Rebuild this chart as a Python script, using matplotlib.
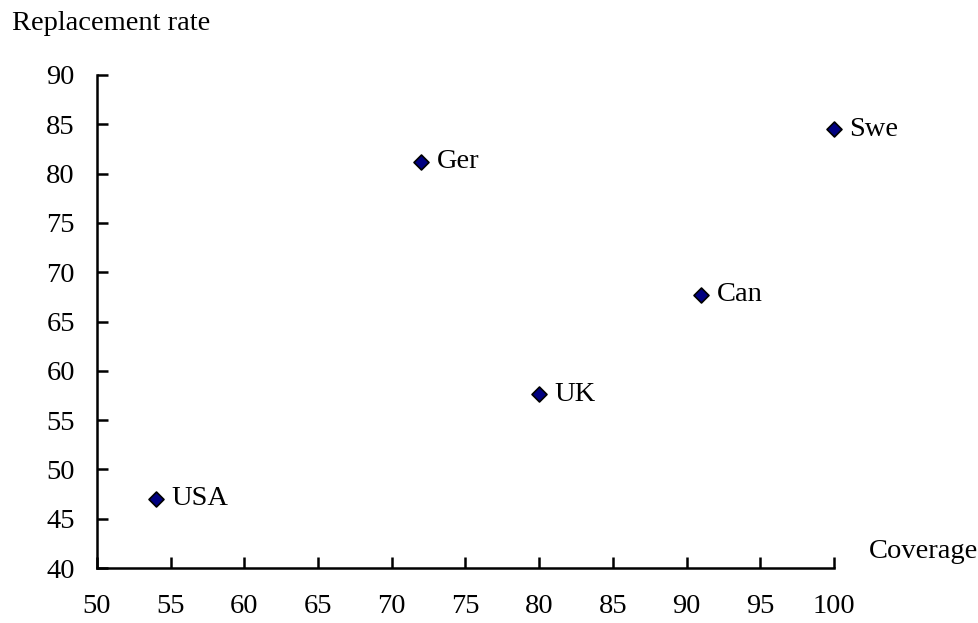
import matplotlib
matplotlib.use("Agg")
import matplotlib.pyplot as plt

countries = ["USA", "Ger", "UK", "Can", "Swe"]
coverage = [54, 72, 80, 91, 100]
replacement = [47.0, 81.2, 57.6, 67.7, 84.5]
x_ticks = [50, 55, 60, 65, 70, 75, 80, 85, 90, 95, 100]
y_ticks = [40, 45, 50, 55, 60, 65, 70, 75, 80, 85, 90]

plt.rcParams['font.family'] = ['Liberation Serif', 'DejaVu Serif']
FS = 20.5
W, H = 979, 623
fig = plt.figure(figsize=(W/100, H/100), dpi=100)
l, r, t, b = 97, 834, 75, 568
ax = fig.add_axes([l/W, 1-b/H, (r-l)/W, (b-t)/H])
ax.scatter(coverage, replacement, marker='D', s=58, facecolor='#000080',
           edgecolor='black', linewidth=1.2, zorder=3, clip_on=False)
for c, x, y in zip(countries, coverage, replacement):
    ax.annotate(c, (x, y), xytext=(11, 0), textcoords='offset points',
                ha='left', va='center', fontsize=FS)
ax.set_xlim(50, 100)
ax.set_ylim(40, 90)
ax.set_xticks(x_ticks)
ax.set_yticks(y_ticks)
for s in ['top', 'right']:
    ax.spines[s].set_visible(False)
for s in ['left', 'bottom']:
    ax.spines[s].set_linewidth(1.8)
ax.tick_params(direction='in', length=8, width=1.8, labelsize=FS)
ax.tick_params(axis='x', pad=19)
ax.tick_params(axis='y', pad=16)
fig.text(12/W, 1-24/H, "Replacement rate", fontsize=FS, ha='left', va='center')
fig.text(869/W, 1-552/H, "Coverage", fontsize=FS, ha='left', va='center')
fig.savefig("out.png", dpi=100)
